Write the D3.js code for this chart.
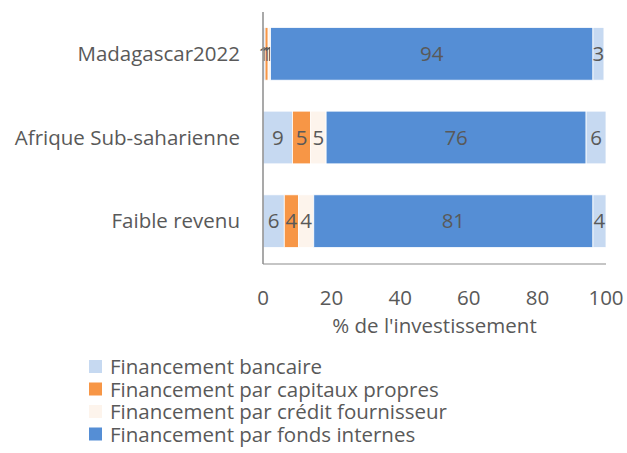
<!DOCTYPE html>
<html>
<head>
<meta charset="utf-8">
<script src="https://cdn.jsdelivr.net/npm/d3@7"></script>
<style>
  body { margin: 0; background: #fff; }
  svg { display: block; font-family: "Open Sans", sans-serif; }
</style>
</head>
<body>
<div id="chart-area"></div>
<script>
// categories (top to bottom)
const categories = ["Madagascar2022", "Afrique Sub-saharienne", "Faible revenu"];

// series values, % of investment
const bancaire = [0.6, 8.6, 6.2];
const capitaux = [0.9, 5.3, 4.2];
const credit   = [0.7, 4.5, 4.4];
const fonds    = [94.0, 75.8, 81.4];
const autres   = [3.2, 5.8, 3.8];

const seriesNames = [
  "Financement bancaire",
  "Financement par capitaux propres",
  "Financement par crédit fournisseur",
  "Financement par fonds internes"
];
const seriesColors = ["#C6D9F1", "#F79646", "#FDF4EC", "#558ED5", "#C6D9F1"];
const xTicks = [0, 20, 40, 60, 80, 100];

const W = 627, H = 453;
const margin = { top: 12, right: 21, bottom: 190, left: 263 };
const width = W - margin.left - margin.right,
      height = H - margin.top - margin.bottom;
const fs = "20.5px";

const svg = d3.select("#chart-area").append("svg")
  .attr("width", W).attr("height", H);
const g = svg.append("g")
  .attr("transform", "translate(" + margin.left + "," + margin.top + ")");

// build table for stacking
const table = categories.map((c, i) => ({
  cat: c,
  s0: bancaire[i], s1: capitaux[i], s2: credit[i], s3: fonds[i], s4: autres[i]
}));
const keys = ["s0", "s1", "s2", "s3", "s4"];
const stacked = d3.stack().keys(keys)(table);

const x = d3.scaleLinear().domain([0, 100]).range([0, width]);
const y = d3.scaleBand().domain(categories).range([0, height])
  .paddingInner(0.37).paddingOuter(0.185);

// bars
const layers = g.selectAll(".layer").data(stacked).enter()
  .append("g").attr("fill", (d, i) => seriesColors[i]);

layers.selectAll("rect").data(d => d).enter().append("rect")
  .attr("x", d => x(d[0]))
  .attr("y", d => y(d.data.cat))
  .attr("width", d => x(d[1]) - x(d[0]))
  .attr("height", y.bandwidth())
  .attr("stroke", "#fff").attr("stroke-width", 0.8);

// data labels
layers.selectAll("text").data(d => d).enter().append("text")
  .attr("x", d => (x(d[0]) + x(d[1])) / 2)
  .attr("y", d => y(d.data.cat) + y.bandwidth() / 2)
  .attr("dy", "0.35em")
  .attr("text-anchor", "middle")
  .attr("fill", "#595959")
  .style("font-size", fs)
  .text(d => Math.round(d[1] - d[0]));

// axis lines
g.append("line").attr("x1", 0).attr("x2", 0).attr("y1", 0).attr("y2", height + 1)
  .attr("stroke", "#8c8c8c").attr("stroke-width", 1.5);
g.append("line").attr("x1", 0).attr("x2", width).attr("y1", height + 1).attr("y2", height + 1)
  .attr("stroke", "#8c8c8c").attr("stroke-width", 1.2);

// category labels
g.selectAll(".cat").data(categories).enter().append("text")
  .attr("x", -23)
  .attr("y", d => y(d) + y.bandwidth() / 2)
  .attr("dy", "0.35em")
  .attr("text-anchor", "end")
  .attr("fill", "#595959")
  .style("font-size", fs)
  .text(d => d);

// x tick labels
g.selectAll(".tick-label").data(xTicks).enter().append("text")
  .attr("x", d => x(d))
  .attr("y", height + 35)
  .attr("dy", "0.35em")
  .attr("text-anchor", "middle")
  .attr("fill", "#595959")
  .style("font-size", fs)
  .text(d => d);

// x label
g.append("text")
  .attr("x", width / 2)
  .attr("y", height + 63)
  .attr("dy", "0.35em")
  .attr("text-anchor", "middle")
  .attr("fill", "#595959")
  .style("font-size", fs)
  .text("% de l'investissement");

// legend
const legend = svg.append("g").attr("transform", "translate(89, 367)");
const items = legend.selectAll("g").data(seriesNames).enter().append("g")
  .attr("transform", (d, i) => "translate(0," + (i * 22.5) + ")");
items.append("rect").attr("x", 0).attr("y", -7).attr("width", 13).attr("height", 13)
  .attr("fill", (d, i) => seriesColors[i]);
items.append("text").attr("x", 21).attr("dy", "0.35em")
  .attr("fill", "#595959").style("font-size", fs)
  .text(d => d);
</script>
</body>
</html>
